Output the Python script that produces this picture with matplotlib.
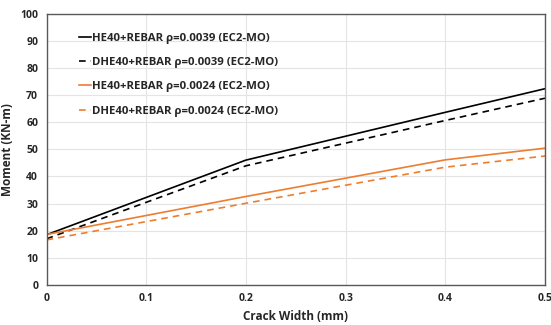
import matplotlib
matplotlib.use('Agg')
import matplotlib.pyplot as plt

# Moment vs crack width for the four beam configurations
crack = [0, 0.2, 0.4, 0.5]
he40_0039 = [18.5, 46.0, 63.6, 72.3]
dhe40_0039 = [17.0, 43.9, 60.6, 68.8]
he40_0024 = [18.6, 32.6, 46.1, 50.4]
dhe40_0024 = [16.6, 30.1, 43.4, 47.5]

plt.rcParams['font.family'] = ['Open Sans', 'DejaVu Sans']
plt.rcParams['font.weight'] = 'bold'

fig = plt.figure(figsize=(5.51, 3.25), dpi=100)
ax = fig.add_axes([46.5 / 551, 1 - 285 / 325, (545 - 46.5) / 551, (285 - 13.5) / 325])

orange = '#ed7d31'
dash = (0, (4, 3))
ax.plot(crack, he40_0039, color='black', lw=1.2, label='HE40+REBAR ρ=0.0039 (EC2-MO)')
ax.plot(crack, dhe40_0039, color='black', lw=1.2, ls=dash, label='DHE40+REBAR ρ=0.0039 (EC2-MO)')
ax.plot(crack, he40_0024, color=orange, lw=1.2, label='HE40+REBAR ρ=0.0024 (EC2-MO)')
ax.plot(crack, dhe40_0024, color=orange, lw=1.2, ls=dash, label='DHE40+REBAR ρ=0.0024 (EC2-MO)')

ax.set_xlim(0, 0.5)
ax.set_ylim(0, 100)
ax.set_xticks([0, 0.1, 0.2, 0.3, 0.4, 0.5])
ax.set_xticklabels(['0', '0.1', '0.2', '0.3', '0.4', '0.5'])
ax.set_yticks(range(0, 101, 10))
ax.grid(True, color='#e4e4e4', lw=0.8)
ax.set_axisbelow(True)
for s in ax.spines.values():
    s.set_color('#595959')
    s.set_linewidth(1.0)
ax.tick_params(length=0, labelsize=7.5, colors='#262626', pad=6)

ax.set_xlabel('Crack Width (mm)', fontsize=8.5, fontweight='bold', color='#262626', labelpad=4)
ax.set_ylabel('Moment (KN-m)', fontsize=8.5, fontweight='bold', color='#262626')
ax.yaxis.set_label_coords(-32 / 498.5, 0.5)

leg = ax.legend(loc='upper left', bbox_to_anchor=(0.045, 0.965), frameon=False,
                handlelength=1.0, handletextpad=0.1, labelspacing=1.15,
                prop={'size': 8.2, 'weight': 'bold'})
for t in leg.get_texts():
    t.set_color('#262626')

fig.savefig('out.png', dpi=100)
